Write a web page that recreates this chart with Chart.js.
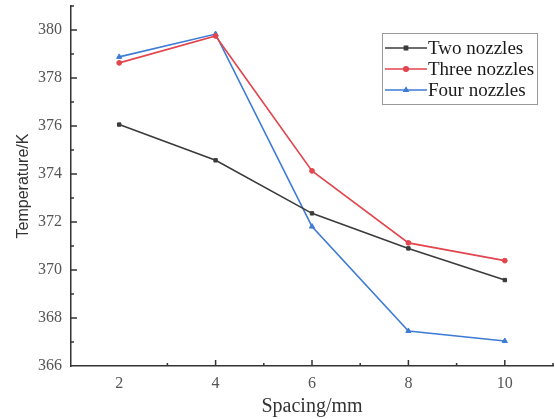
<!DOCTYPE html>
<html>
<head>
<meta charset="utf-8">
<script src="https://cdn.jsdelivr.net/npm/chart.js@4/dist/chart.umd.min.js"></script>
<style>
  html, body { margin: 0; padding: 0; background: #fff; }
  #wrap { position: relative; width: 555px; height: 419px; }
</style>
</head>
<body>
<div id="wrap"><canvas id="tempChart"></canvas></div>
<script>
// spacing between nozzles (mm) and outlet temperature (K)
var spacing = [2, 4, 6, 8, 10];
var twoNozzles = [376.06, 374.57, 372.36, 370.90, 369.58];
var threeNozzles = [378.63, 379.75, 374.13, 371.13, 370.39];
var fourNozzles = [378.88, 379.83, 371.81, 367.46, 367.04];
var xTicks = [2, 4, 6, 8, 10];
var yTicks = [366, 368, 370, 372, 374, 376, 378, 380];

var seriesNames = ['Two nozzles', 'Three nozzles', 'Four nozzles'];
var seriesColors = ['#3b3b3b', '#e2454d', '#3d7bd4'];
var seriesMarkers = ['rect', 'circle', 'triangle'];

function toPoints(vals) {
    return spacing.map(function(x, i) { return { x: x, y: vals[i] }; });
}

// inward major/minor tick marks on the left and bottom axes
var innerTicks = {
    id: 'innerTicks',
    afterDraw: function(chart) {
        var ctx = chart.ctx, xs = chart.scales.x, ys = chart.scales.y;
        var area = chart.chartArea;
        ctx.save();
        ctx.strokeStyle = '#333';
        ctx.lineWidth = 1.5;
        ctx.beginPath();
        for (var v = 3; v <= 11; v++) {
            var len = (v % 2 === 0) ? 6 : 3;
            var px = xs.getPixelForValue(v);
            ctx.moveTo(px, area.bottom);
            ctx.lineTo(px, area.bottom - len);
        }
        for (var t = 367; t <= 381; t++) {
            var l = (t % 2 === 0) ? 6 : 3;
            var py = ys.getPixelForValue(t);
            ctx.moveTo(area.left, py);
            ctx.lineTo(area.left + l, py);
        }
        ctx.stroke();
        ctx.restore();
    }
};

// boxed legend in the upper right corner
var boxLegend = {
    id: 'boxLegend',
    afterDraw: function(chart) {
        var ctx = chart.ctx;
        var bx = 382, by = 33, bw = 155, bh = 71;
        ctx.save();
        ctx.strokeStyle = '#9a9a9a';
        ctx.lineWidth = 1;
        ctx.strokeRect(bx + 0.5, by + 0.5, bw, bh);
        ctx.font = '19px "Liberation Serif", serif';
        ctx.textBaseline = 'middle';
        ctx.textAlign = 'left';
        var rows = [48, 69, 90];
        chart.data.datasets.forEach(function(ds, i) {
            var y = rows[i];
            ctx.strokeStyle = ds.borderColor;
            ctx.lineWidth = 1.5;
            ctx.beginPath();
            ctx.moveTo(385, y);
            ctx.lineTo(427, y);
            ctx.stroke();
            Chart.helpers.drawPoint(ctx, {
                pointStyle: ds.pointStyle, radius: 2.3, borderWidth: 1
            }, 406, y);
            ctx.fillStyle = ds.borderColor;
            ctx.fill();
            ctx.fillStyle = '#1a1a1a';
            ctx.fillText(ds.label, 428, y + 1);
        });
        ctx.restore();
    }
};

var datasets = [twoNozzles, threeNozzles, fourNozzles].map(function(vals, i) {
    return {
        label: seriesNames[i],
        data: toPoints(vals),
        borderColor: seriesColors[i],
        backgroundColor: seriesColors[i],
        pointStyle: seriesMarkers[i],
        pointRadius: seriesMarkers[i] === 'triangle' ? 3 : 2.4,
        pointBorderWidth: 1,
        borderWidth: 1.6,
        tension: 0
    };
});

new Chart(document.getElementById('tempChart'), {
    type: 'line',
    data: { datasets: datasets },
    plugins: [innerTicks, boxLegend],
    options: {
        responsive: true,
        maintainAspectRatio: false,
        animation: false,
        layout: { autoPadding: false, padding: { top: 6, right: 2, left: 0, bottom: 0 } },
        plugins: { legend: { display: false }, tooltip: { enabled: false } },
        scales: {
            x: {
                type: 'linear',
                min: 1,
                max: 11,
                afterBuildTicks: function(s) { s.ticks = xTicks.map(function(v) { return { value: v }; }); },
                afterFit: function(s) { s.height = 53; s.paddingLeft = 0; s.paddingRight = 0; },
                grid: { drawOnChartArea: false, drawTicks: false },
                border: { display: true, color: '#333', width: 1.5 },
                ticks: { padding: 8, color: '#555', font: { family: '"Liberation Serif", serif', size: 16 } },
                title: {
                    display: true, text: 'Spacing/mm', color: '#333', padding: { top: 2, bottom: 0 },
                    font: { family: '"Liberation Serif", serif', size: 20 }
                }
            },
            y: {
                min: 366,
                max: 381,
                afterBuildTicks: function(s) { s.ticks = yTicks.map(function(v) { return { value: v }; }); },
                afterFit: function(s) { s.width = 71; s.paddingTop = 0; s.paddingBottom = 0; },
                grid: { drawOnChartArea: false, drawTicks: false },
                border: { display: true, color: '#333', width: 1.5 },
                ticks: { padding: 9, color: '#555', font: { family: '"Liberation Serif", serif', size: 16 } },
                title: {
                    display: true, text: 'Temperature/K', color: '#333', padding: { top: 14, bottom: 0 },
                    font: { family: '"Liberation Sans", sans-serif', size: 16 }
                }
            }
        }
    }
});
</script>
</body>
</html>
